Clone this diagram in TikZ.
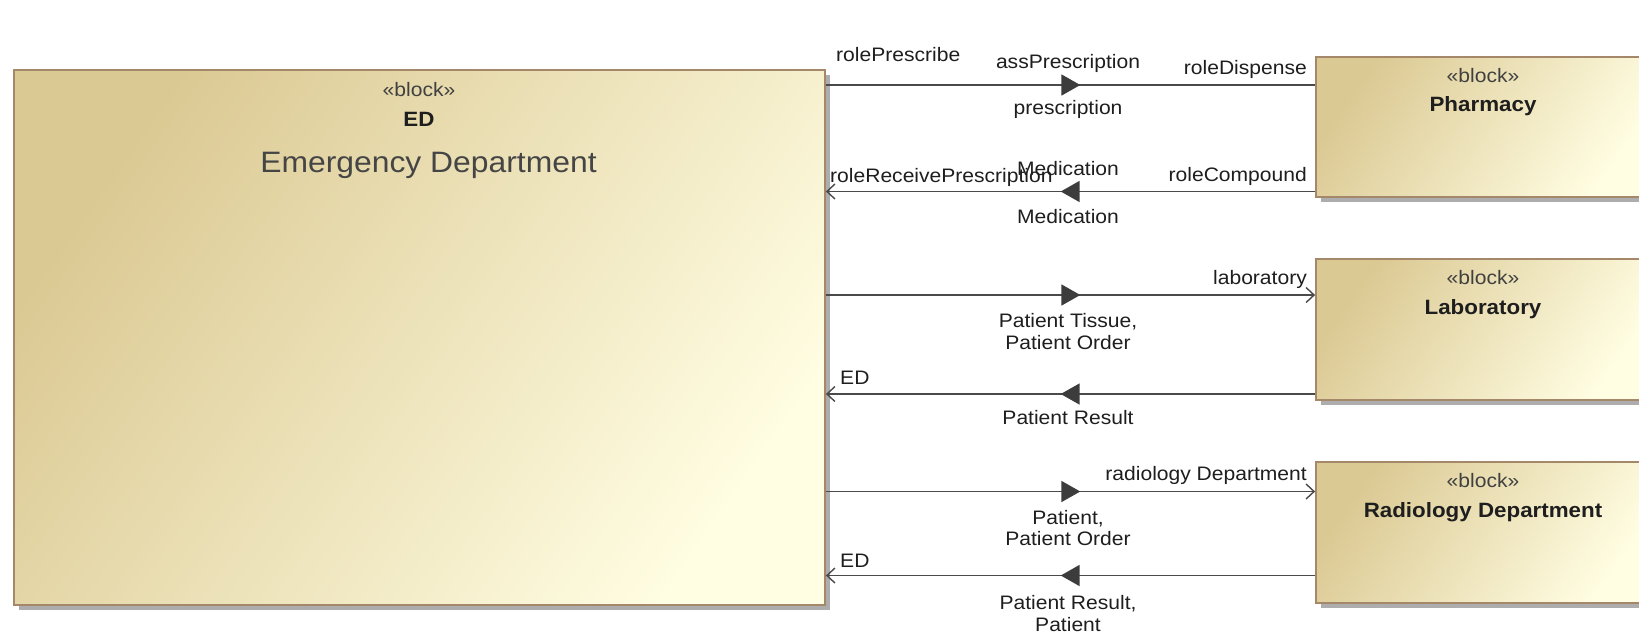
\documentclass[tikz,border=0pt]{standalone}
\usepackage{fontspec}
\setmainfont[FakeStretch=1.08]{Liberation Sans}
\usetikzlibrary{arrows.meta,decorations.markings,shadows}

\definecolor{blockdark}{HTML}{DBC993}
\definecolor{blocklight}{HTML}{FFFDE2}
\definecolor{blockedge}{HTML}{A5876A}
\definecolor{wire}{HTML}{4A4A4A}
\definecolor{flowtip}{HTML}{3C3C3C}
\definecolor{labeltext}{HTML}{1E1E1E}
\definecolor{subtitle}{HTML}{454545}

\begin{document}
\begin{tikzpicture}[x=1pt,y=-1pt,
  blockbox/.style={draw=blockedge, line width=1.8pt, top color=blockdark,
    bottom color=blocklight, shading angle=55, inner sep=0pt,
    drop shadow={shadow xshift=5pt, shadow yshift=-5pt, fill=black!32, opacity=1}},
  stereo/.style={font=\fontsize{19.5}{23.5}\selectfont, text=labeltext!85, inner sep=0pt, anchor=base},
  title/.style={font=\fontsize{20.7}{24}\selectfont\bfseries, text=labeltext, inner sep=0pt, anchor=base},
  lbl/.style={font=\fontsize{19.5}{21.5}\selectfont, text=labeltext, inner sep=0pt, align=center},
  wireline/.style={draw=wire, line width=1.9pt},
  openend/.style={-{Straight Barb[length=8pt,width=15pt,line width=1.4pt]}},
  flowmark/.style={postaction={decorate}, decoration={markings,
    mark=at position 0.52 with {\arrow[flowtip]{Triangle[length=19pt,width=21pt]}}}}
]
\path[use as bounding box, clip] (0,0) rectangle (1639,641);
\fill[white] (0,0) rectangle (1639,641);

% blocks
\node[blockbox, minimum width=811pt, minimum height=535pt] (ed) at (419.5,337.5) {};
\node[blockbox, minimum width=334pt, minimum height=140pt] (pharm) at (1483,127) {};
\node[blockbox, minimum width=334pt, minimum height=141pt] (lab) at (1483,329.5) {};
\node[blockbox, minimum width=334pt, minimum height=141pt] (rad) at (1483,532.5) {};

% block headings
\node[stereo] (edstereo) at (419,96) {«block»};
\node[title] (edname) at (419,126) {ED};
\node[inner sep=0pt, anchor=base, text=subtitle, font=\fontsize{29.5}{34}\selectfont] (eddesc) at (428.5,172.5) {Emergency Department};

\node[stereo] (pharmstereo) at (1483,82.3) {«block»};
\node[title] (pharmname) at (1483,111.7) {Pharmacy};
\node[stereo] (labstereo) at (1483,284.3) {«block»};
\node[title] (labname) at (1483,314.2) {Laboratory};
\node[stereo] (radstereo) at (1483,487.3) {«block»};
\node[title] (radname) at (1483,517.2) {Radiology Department};

% connector heights
\coordinate (y1) at (0,85);
\coordinate (y2) at (0,191.5);
\coordinate (y3) at (0,295);
\coordinate (y4) at (0,394);
\coordinate (y5) at (0,491.5);
\coordinate (y6) at (0,575.5);

% connectors, drawn in the direction of flow
\draw[wireline, flowmark] (ed.east |- y1) -- (pharm.west |- y1);
\draw[wireline, flowmark, openend] (pharm.west |- y2) -- (ed.east |- y2);
\draw[wireline, flowmark, openend] (ed.east |- y3) -- (lab.west |- y3);
\draw[wireline, flowmark, openend] (lab.west |- y4) -- (ed.east |- y4);
\draw[wireline, flowmark, openend] (ed.east |- y5) -- (rad.west |- y5);
\draw[wireline, flowmark, openend] (rad.west |- y6) -- (ed.east |- y6);

% connector labels
\node[lbl, anchor=base west] (l1a) at (836,61.5) {rolePrescribe};
\node[lbl, anchor=base] (l1b) at (1068,68) {assPrescription};
\node[lbl, anchor=base east] (l1c) at (1307,74.4) {roleDispense};
\node[lbl, anchor=base] (l1d) at (1068,114) {prescription};

\node[lbl, anchor=base] (l2b) at (1068,175) {Medication};
\node[lbl, anchor=base west] (l2a) at (830,182) {roleReceivePrescription};
\node[lbl, anchor=base east] (l2c) at (1307,181.5) {roleCompound};
\node[lbl, anchor=base] (l2d) at (1068,223.5) {Medication};

\node[lbl, anchor=base east] (l3c) at (1307,284.5) {laboratory};
\node[lbl, anchor=north] (l3d) at (1068,313.5) {Patient Tissue,\\Patient Order};

\node[lbl, anchor=base west] (l4a) at (840,384) {ED};
\node[lbl, anchor=base] (l4d) at (1068,424.5) {Patient Result};

\node[lbl, anchor=base east] (l5c) at (1307,480.5) {radiology Department};
\node[lbl, anchor=north] (l5d) at (1068,510) {Patient,\\Patient Order};

\node[lbl, anchor=base west] (l6a) at (840,567.5) {ED};
\node[lbl, anchor=north] (l6d) at (1068,595.5) {Patient Result,\\Patient};
\end{tikzpicture}
\end{document}
